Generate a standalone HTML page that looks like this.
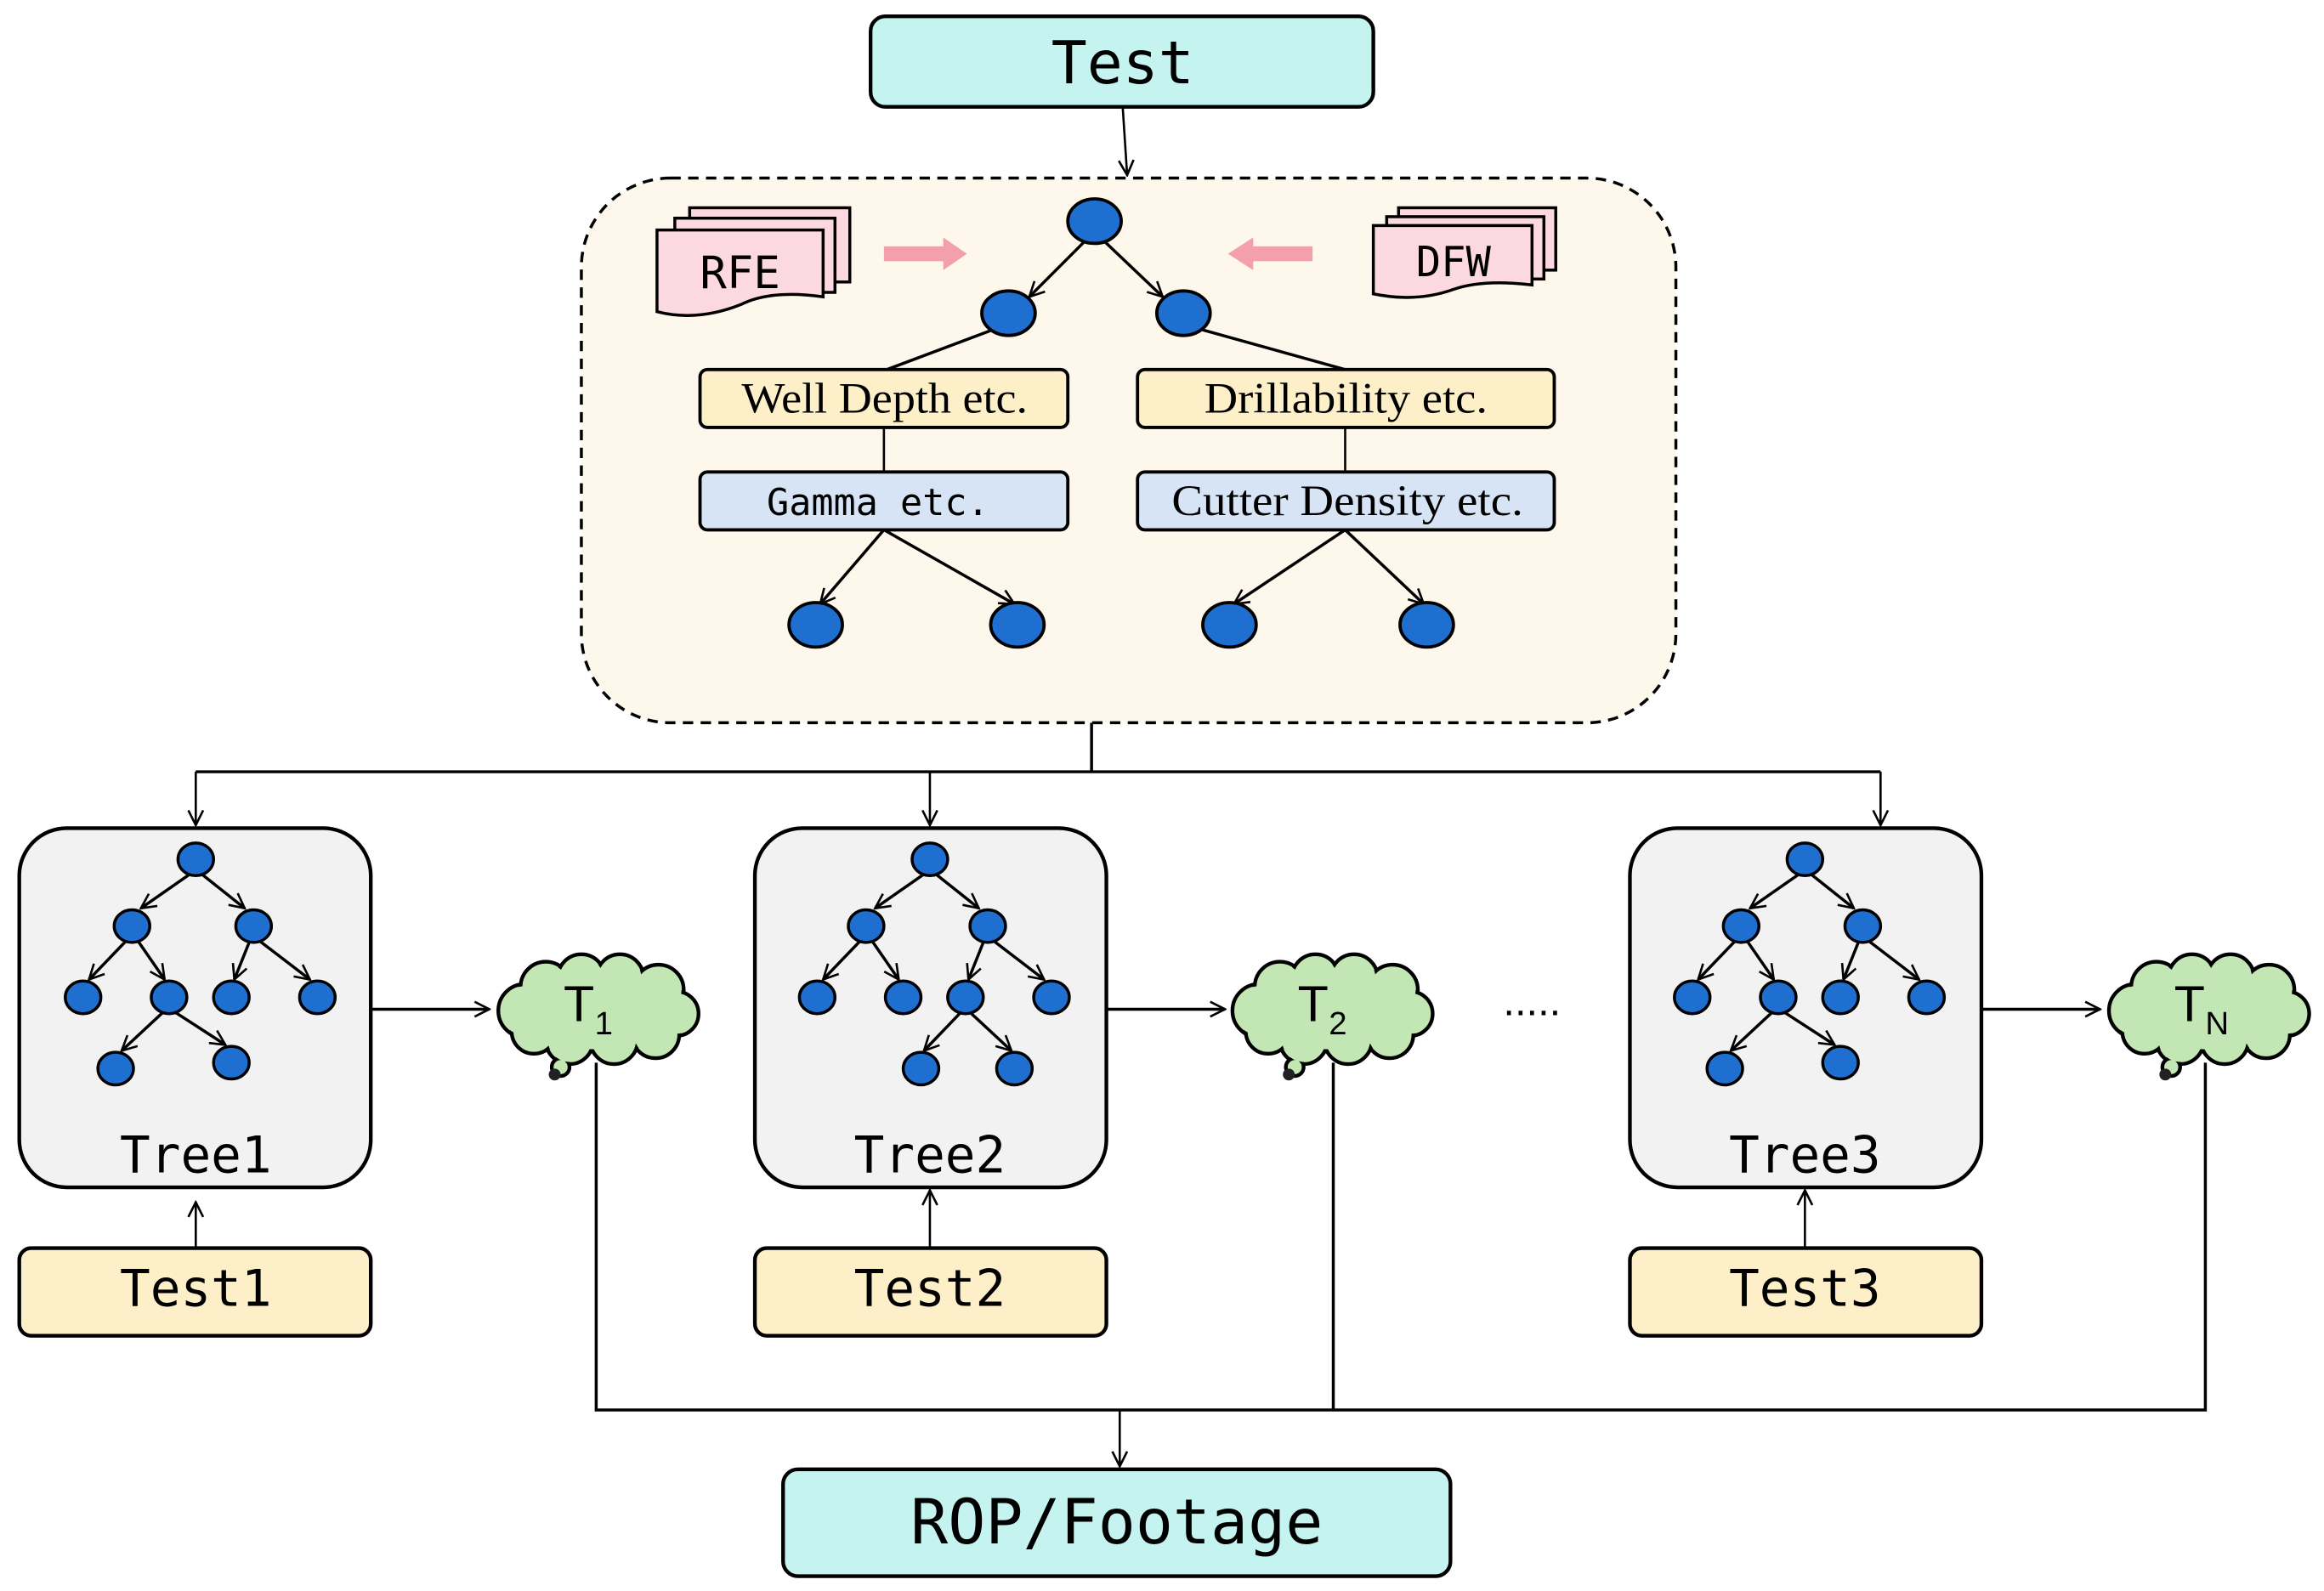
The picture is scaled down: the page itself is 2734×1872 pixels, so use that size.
<!DOCTYPE html>
<html><head><meta charset="utf-8"><style>
html,body{margin:0;padding:0;background:#fff}
svg{display:block}
.mono{font-family:"DejaVu Sans Mono","Liberation Mono",monospace}
.serif{font-family:"Liberation Serif",serif}
</style></head><body>
<svg width="2734" height="1872" viewBox="0 0 1567 1072" preserveAspectRatio="none" xmlns="http://www.w3.org/2000/svg">
<defs>
<marker id="a" viewBox="0 0 12 12" refX="11" refY="6" markerWidth="12" markerHeight="12" markerUnits="userSpaceOnUse" orient="auto">
<path d="M1,1 L11,6 L1,11" fill="none" stroke="#000" stroke-width="1.5"/></marker>
<g id="node"><ellipse cx="0" cy="0" rx="12" ry="11" fill="#1f6fd0" stroke="#000" stroke-width="2"/></g>
<g id="bn"><ellipse cx="0" cy="0" rx="18" ry="15" fill="#1f6fd0" stroke="#000" stroke-width="2.2"/></g>
<g id="cloud">
<g fill="#c3e6b5" stroke="#000" stroke-width="2.5">
<circle cx="22" cy="38" r="18"/><circle cx="36" cy="22" r="17"/><circle cx="60" cy="16" r="16"/><circle cx="86" cy="16" r="16"/><circle cx="112" cy="24" r="17"/><circle cx="124" cy="40" r="15"/><circle cx="110" cy="54" r="16"/><circle cx="82" cy="58" r="16"/><circle cx="52" cy="58" r="16"/><circle cx="28" cy="52" r="15"/>
<circle cx="46" cy="76" r="6"/>
</g>
<circle cx="42" cy="81" r="4" fill="#222"/>
<g fill="#c3e6b5">
<circle cx="22" cy="38" r="16.5"/><circle cx="36" cy="22" r="15.5"/><circle cx="60" cy="16" r="14.5"/><circle cx="86" cy="16" r="14.5"/><circle cx="112" cy="24" r="15.5"/><circle cx="124" cy="40" r="13.5"/><circle cx="110" cy="54" r="14.5"/><circle cx="82" cy="58" r="14.5"/><circle cx="52" cy="58" r="14.5"/><circle cx="28" cy="52" r="13.5"/>
<ellipse cx="70" cy="38" rx="52" ry="26"/>
</g>
</g>
</defs>

<rect x="587" y="11" width="339" height="61" rx="10" fill="#c5f3ef" stroke="#000" stroke-width="2.5"/>
<text x="757" y="56" text-anchor="middle" class="mono" font-size="40">Test</text>
<line x1="757" y1="72" x2="760" y2="118" stroke="#000" stroke-width="1.5" marker-end="url(#a)"/>

<rect x="392" y="120" width="738" height="367" rx="60" fill="#fef8ec" stroke="#000" stroke-width="2" stroke-dasharray="7,5"/>

<g stroke="#000" stroke-width="2" fill="#fcd9e0">
<rect x="465" y="140" width="108" height="50"/>
<rect x="455" y="147" width="108" height="50"/>
<path d="M443,155 H555 V200 Q520,195 500,205 Q470,217 443,210 Z"/>
</g>
<text x="499" y="194" text-anchor="middle" class="mono" font-size="30">RFE</text>
<g stroke="#000" stroke-width="2" fill="#fcd9e0">
<rect x="943" y="140" width="106" height="42"/>
<rect x="935" y="146" width="106" height="42"/>
<path d="M926,152 H1033 V192 Q1000,188 980,195 Q955,204 926,198 Z"/>
</g>
<text x="980" y="186" text-anchor="middle" class="mono" font-size="28">DFW</text>

<path d="M596,166 H636 V160 L652,171 L636,182 V176 H596 Z" fill="#f4a0aa"/>
<path d="M885,166 H845 V160 L828,171 L845,182 V176 H885 Z" fill="#f4a0aa"/>

<g stroke="#000" stroke-width="2" fill="none">
<line x1="732" y1="162" x2="694" y2="200" marker-end="url(#a)"/>
<line x1="744" y1="162" x2="784" y2="200" marker-end="url(#a)"/>
<line x1="670" y1="222" x2="598" y2="249"/>
<line x1="810" y1="222" x2="907" y2="249"/>
<line x1="596" y1="288" x2="596" y2="318" stroke-width="1.5"/>
<line x1="907" y1="288" x2="907" y2="318" stroke-width="1.5"/>
<line x1="596" y1="357" x2="553" y2="407" marker-end="url(#a)"/>
<line x1="596" y1="357" x2="684" y2="407" marker-end="url(#a)"/>
<line x1="907" y1="357" x2="832" y2="407" marker-end="url(#a)"/>
<line x1="907" y1="357" x2="960" y2="407" marker-end="url(#a)"/>
</g>
<use href="#bn" x="738" y="149"/><use href="#bn" x="680" y="211"/><use href="#bn" x="798" y="211"/>
<use href="#bn" x="550" y="421"/><use href="#bn" x="686" y="421"/><use href="#bn" x="829" y="421"/><use href="#bn" x="962" y="421"/>

<rect x="472" y="249" width="248" height="39" rx="5" fill="#fdf0c8" stroke="#000" stroke-width="2.2"/>
<text x="500" y="278" class="serif" font-size="29" textLength="193" lengthAdjust="spacingAndGlyphs">Well Depth etc.</text>
<rect x="767" y="249" width="281" height="39" rx="5" fill="#fdf0c8" stroke="#000" stroke-width="2.2"/>
<text x="812" y="278" class="serif" font-size="29" textLength="191" lengthAdjust="spacingAndGlyphs">Drillability etc.</text>
<rect x="472" y="318" width="248" height="39" rx="5" fill="#d6e4f5" stroke="#000" stroke-width="2.2"/>
<text x="517" y="347" class="mono" font-size="25" textLength="150" lengthAdjust="spacingAndGlyphs">Gamma etc.</text>
<rect x="767" y="318" width="281" height="39" rx="5" fill="#d6e4f5" stroke="#000" stroke-width="2.2"/>
<text x="790" y="347" class="serif" font-size="29" textLength="237" lengthAdjust="spacingAndGlyphs">Cutter Density etc.</text>

<g stroke="#000" stroke-width="2" fill="none">
<line x1="736" y1="487" x2="736" y2="520"/>
<line x1="132" y1="520" x2="1268" y2="520"/>
<line x1="132" y1="520" x2="132" y2="556" stroke-width="1.5" marker-end="url(#a)"/>
<line x1="627" y1="520" x2="627" y2="556" stroke-width="1.5" marker-end="url(#a)"/>
<line x1="1268" y1="520" x2="1268" y2="556" stroke-width="1.5" marker-end="url(#a)"/>
</g>

<g fill="#f2f2f2" stroke="#000" stroke-width="2.5">
<rect x="13" y="558" width="237" height="242" rx="32"/>
<rect x="509" y="558" width="237" height="242" rx="32"/>
<rect x="1099" y="558" width="237" height="242" rx="32"/>
</g>

<g id="mt">
<g stroke="#000" stroke-width="2" fill="none">
<line x1="128" y1="589" x2="95" y2="612" marker-end="url(#a)"/>
<line x1="136" y1="589" x2="165" y2="612" marker-end="url(#a)"/>
<line x1="85" y1="634" x2="60" y2="660" marker-end="url(#a)"/>
<line x1="93" y1="634" x2="111" y2="660" marker-end="url(#a)"/>
<line x1="168" y1="635" x2="158" y2="660" marker-end="url(#a)"/>
<line x1="175" y1="634" x2="209" y2="660" marker-end="url(#a)"/>
<line x1="110" y1="682" x2="82" y2="708" marker-end="url(#a)"/>
<line x1="118" y1="682" x2="152" y2="704" marker-end="url(#a)"/>
</g>
<use href="#node" x="132" y="579"/><use href="#node" x="89" y="624"/><use href="#node" x="171" y="624"/>
<use href="#node" x="56" y="672"/><use href="#node" x="114" y="672"/><use href="#node" x="156" y="672"/><use href="#node" x="214" y="672"/>
<use href="#node" x="78" y="720"/><use href="#node" x="156" y="716"/>
</g>
<g transform="translate(495,0)">
<g stroke="#000" stroke-width="2" fill="none">
<line x1="128" y1="589" x2="95" y2="612" marker-end="url(#a)"/>
<line x1="136" y1="589" x2="165" y2="612" marker-end="url(#a)"/>
<line x1="85" y1="634" x2="60" y2="660" marker-end="url(#a)"/>
<line x1="93" y1="634" x2="111" y2="660" marker-end="url(#a)"/>
<line x1="168" y1="635" x2="158" y2="660" marker-end="url(#a)"/>
<line x1="175" y1="634" x2="209" y2="660" marker-end="url(#a)"/>
<line x1="152" y1="683" x2="128" y2="708" marker-end="url(#a)"/>
<line x1="160" y1="683" x2="187" y2="708" marker-end="url(#a)"/>
</g>
<use href="#node" x="132" y="579"/><use href="#node" x="89" y="624"/><use href="#node" x="171" y="624"/>
<use href="#node" x="56" y="672"/><use href="#node" x="114" y="672"/><use href="#node" x="156" y="672"/><use href="#node" x="214" y="672"/>
<use href="#node" x="126" y="720"/><use href="#node" x="189" y="720"/>
</g>
<use href="#mt" x="1085" y="0"/>

<g class="mono" font-size="34" text-anchor="middle">
<text x="132" y="790">Tree1</text><text x="627" y="790">Tree2</text><text x="1217" y="790">Tree3</text>
</g>

<g fill="#fdf0c8" stroke="#000" stroke-width="2.5">
<rect x="13" y="841" width="237" height="59" rx="8"/>
<rect x="509" y="841" width="237" height="59" rx="8"/>
<rect x="1099" y="841" width="237" height="59" rx="8"/>
</g>
<g class="mono" font-size="34" text-anchor="middle">
<text x="132" y="880">Test1</text><text x="627" y="880">Test2</text><text x="1217" y="880">Test3</text>
</g>
<g stroke="#000" stroke-width="1.5" marker-end="url(#a)">
<line x1="132" y1="841" x2="132" y2="810"/>
<line x1="627" y1="841" x2="627" y2="802"/>
<line x1="1217" y1="841" x2="1217" y2="802"/>
</g>

<g stroke="#000" stroke-width="2" marker-end="url(#a)">
<line x1="250" y1="680" x2="330" y2="680"/>
<line x1="746" y1="680" x2="826" y2="680"/>
<line x1="1336" y1="680" x2="1416" y2="680"/>
</g>
<use href="#cloud" x="332" y="643"/>
<use href="#cloud" x="827" y="643"/>
<use href="#cloud" x="1418" y="643"/>
<g font-family="Liberation Sans, sans-serif" fill="#000">
<text x="380" y="688" font-size="34">T</text><text x="401" y="697" font-size="22">1</text>
<text x="875" y="688" font-size="34">T</text><text x="896" y="697" font-size="22">2</text>
<text x="1466" y="688" font-size="34">T</text><text x="1487" y="697" font-size="22">N</text>
</g>
<text x="1033" y="684" text-anchor="middle" font-family="Liberation Sans, sans-serif" font-size="28">.....</text>

<g stroke="#000" stroke-width="2" fill="none">
<polyline points="402,716 402,950 1487,950 1487,716"/>
<line x1="899" y1="716" x2="899" y2="950"/>
<line x1="755" y1="950" x2="755" y2="988" stroke-width="1.5" marker-end="url(#a)"/>
</g>

<rect x="528" y="990" width="450" height="72" rx="10" fill="#c5f3ef" stroke="#000" stroke-width="2.5"/>
<text x="753" y="1040" text-anchor="middle" class="mono" font-size="42">ROP/Footage</text>
</svg>
</body></html>
